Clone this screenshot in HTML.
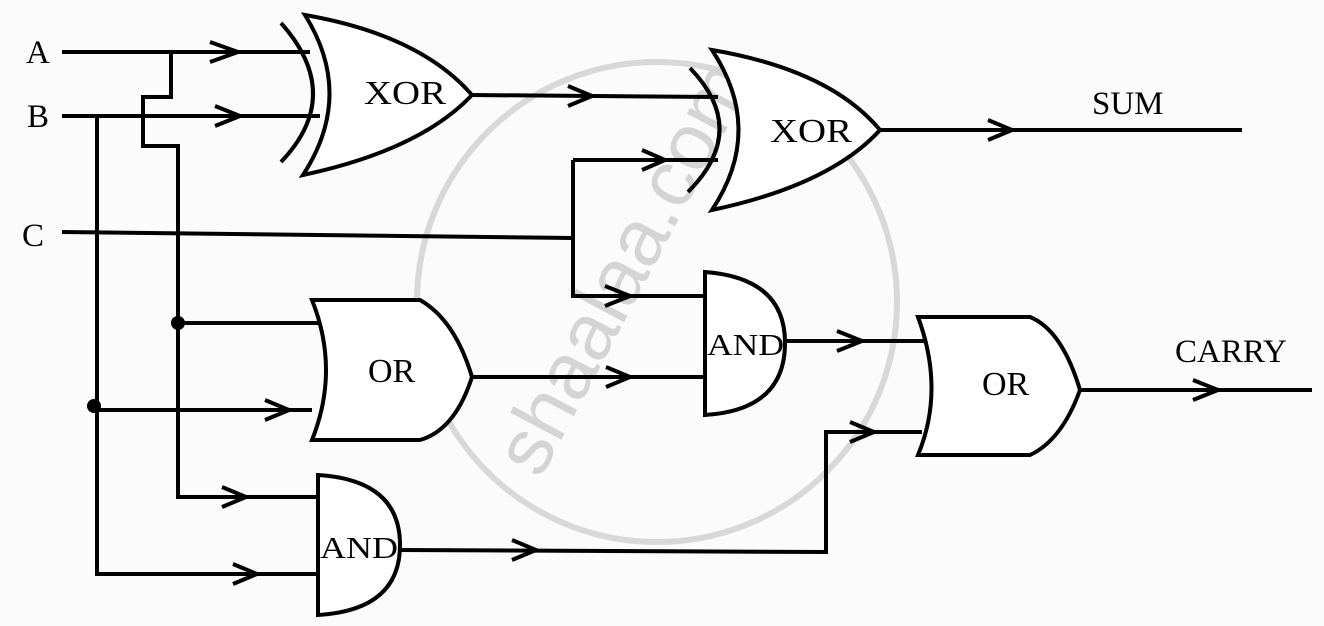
<!DOCTYPE html>
<html><head><style>body{margin:0;background:#fbfbfb}svg{display:block}</style></head><body>
<svg width="1324" height="626" viewBox="0 0 1324 626" xmlns="http://www.w3.org/2000/svg">
<rect width="1324" height="626" fill="#fbfbfb"/>
<circle cx="657" cy="302" r="240" fill="none" stroke="#d8d8d8" stroke-width="6"/>
<text x="0" y="0" transform="translate(540,480) rotate(-62)" font-family="Liberation Sans, sans-serif" font-size="80" fill="#d4d4d4">shaalaa.com</text>
<g fill="none" stroke="#000" stroke-width="4" stroke-linejoin="miter">
<path d="M62 52 H310 M171 52 V97 H143 V146 H178 V497 H318"/>
<path d="M62 116 H320 M97 116 V574 H318"/>
<path d="M62 232 L573 238 M573 160 V296 H705 M573 160 H718"/>
<path d="M178 323 H318 M94 410 H312"/>
<path d="M470 377 H705"/>
<path d="M470 95 L718 97"/>
<path d="M880 130 H1242"/>
<path d="M785 341 H925"/>
<path d="M400 550 L826 552 V432 H922"/>
<path d="M1080 390 H1312"/>
<path d="M210 42 L238 52 L210 62"/>
<path d="M215 106 L240 116 L215 126"/>
<path d="M568 86 L592 96 L568 106"/>
<path d="M642 150 L665 160 L642 170"/>
<path d="M988 120 L1012 130 L988 140"/>
<path d="M605 286 L630 296 L605 306"/>
<path d="M606 367 L630 377 L606 387"/>
<path d="M837 331 L862 341 L837 351"/>
<path d="M850 422 L874 432 L850 442"/>
<path d="M1193 380 L1218 390 L1193 400"/>
<path d="M265 400 L289 410 L265 420"/>
<path d="M222 487 L246 497 L222 507"/>
<path d="M233 564 L257 574 L233 584"/>
<path d="M512 540 L536 550 L512 560"/>
<path d="M281 23 Q345 95 281 162"/>
<path d="M305 15 Q355 95 303 175 Q420 150 472 95 Q420 35 305 15 Z" fill="#fff"/>
<path d="M690 68 Q750 130 688 192"/>
<path d="M712 50 Q765 130 712 210 Q830 185 880 130 Q830 70 712 50 Z" fill="#fff"/>
<path d="M312 300 H420 Q455 320 472 377 Q455 430 420 440 H312 Q340 370 312 300 Z" fill="#fff"/>
<path d="M918 317 H1030 Q1062 330 1080 390 Q1062 440 1030 455 H918 Q945 390 918 317 Z" fill="#fff"/>
<path d="M705 272 Q785 278 785 343 Q785 410 705 415 Z" fill="#fff"/>
<path d="M318 475 Q400 480 400 545 Q400 610 318 615 Z" fill="#fff"/>
</g>
<circle cx="178" cy="323" r="7" fill="#000"/>
<circle cx="94" cy="406" r="7" fill="#000"/>
<g font-family="Liberation Serif, serif" fill="#000">
<text x="26" y="63" font-size="33">A</text>
<text x="27" y="127" font-size="33">B</text>
<text x="22" y="246" font-size="33">C</text>
<text x="1092" y="114" font-size="33">SUM</text>
<text x="1175" y="362" font-size="33">CARRY</text>
<text x="364" y="104" font-size="34" textLength="82" lengthAdjust="spacingAndGlyphs">XOR</text>
<text x="770" y="142" font-size="34" textLength="82" lengthAdjust="spacingAndGlyphs">XOR</text>
<text x="368" y="382" font-size="34">OR</text>
<text x="982" y="395" font-size="34">OR</text>
<text x="707" y="355" font-size="31" textLength="77" lengthAdjust="spacingAndGlyphs">AND</text>
<text x="320" y="558" font-size="31" textLength="78" lengthAdjust="spacingAndGlyphs">AND</text>
</g>
</svg>
</body></html>
